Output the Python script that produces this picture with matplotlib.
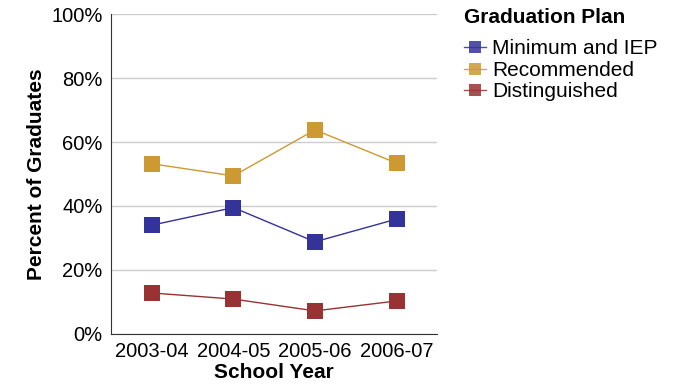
import matplotlib.pyplot as plt
from matplotlib.ticker import PercentFormatter

plt.rcParams['font.family'] = ['Liberation Sans', 'DejaVu Sans']

years = ['2003-04', '2004-05', '2005-06', '2006-07']
minimum_iep = [34.0, 39.5, 28.8, 35.9]
recommended = [53.2, 49.4, 63.8, 53.4]
distinguished = [12.8, 10.9, 7.2, 10.3]

series = [
    ('Minimum and IEP', minimum_iep, '#333399'),
    ('Recommended', recommended, '#CC9933'),
    ('Distinguished', distinguished, '#993333'),
]

fig = plt.figure(figsize=(6.77, 3.91), dpi=100)
ax = fig.add_axes([0.164, 0.146, 0.482, 0.818])

x = range(len(years))
for name, vals, col in series:
    ax.plot(x, vals, color=col, lw=1, marker='s', markersize=11.5,
            markeredgewidth=0, label=name)

ax.set_xlim(-0.5, 3.5)
ax.set_ylim(0, 100)
ax.set_yticks(range(0, 101, 20))
ax.yaxis.set_major_formatter(PercentFormatter(decimals=0))
ax.set_xticks(list(x))
ax.set_xticklabels(years)
ax.grid(axis='y', color='#cccccc', lw=1)
ax.set_axisbelow(True)
ax.tick_params(length=0, labelsize=14.5, pad=6)
for s in ['top', 'right']:
    ax.spines[s].set_visible(False)
for s in ['left', 'bottom']:
    ax.spines[s].set_color('#333333')

ax.set_xlabel('School Year', fontsize=15, fontweight='bold', labelpad=1)
ax.set_ylabel('Percent of Graduates', fontsize=15, fontweight='bold', labelpad=4)

leg = ax.legend(loc='upper left', bbox_to_anchor=(1.025, 1.078), frameon=False,
                title='Graduation Plan', fontsize=15, markerscale=0.7,
                handlelength=1.05, handletextpad=0.3, labelspacing=0.12)
leg.get_title().set_fontweight('bold')
leg.get_title().set_fontsize(15)
leg._legend_box.align = 'left'
leg._legend_box.sep = 9
for h in leg.legend_handles:
    h.set_alpha(0.85)

fig.savefig('out.png', dpi=100)
